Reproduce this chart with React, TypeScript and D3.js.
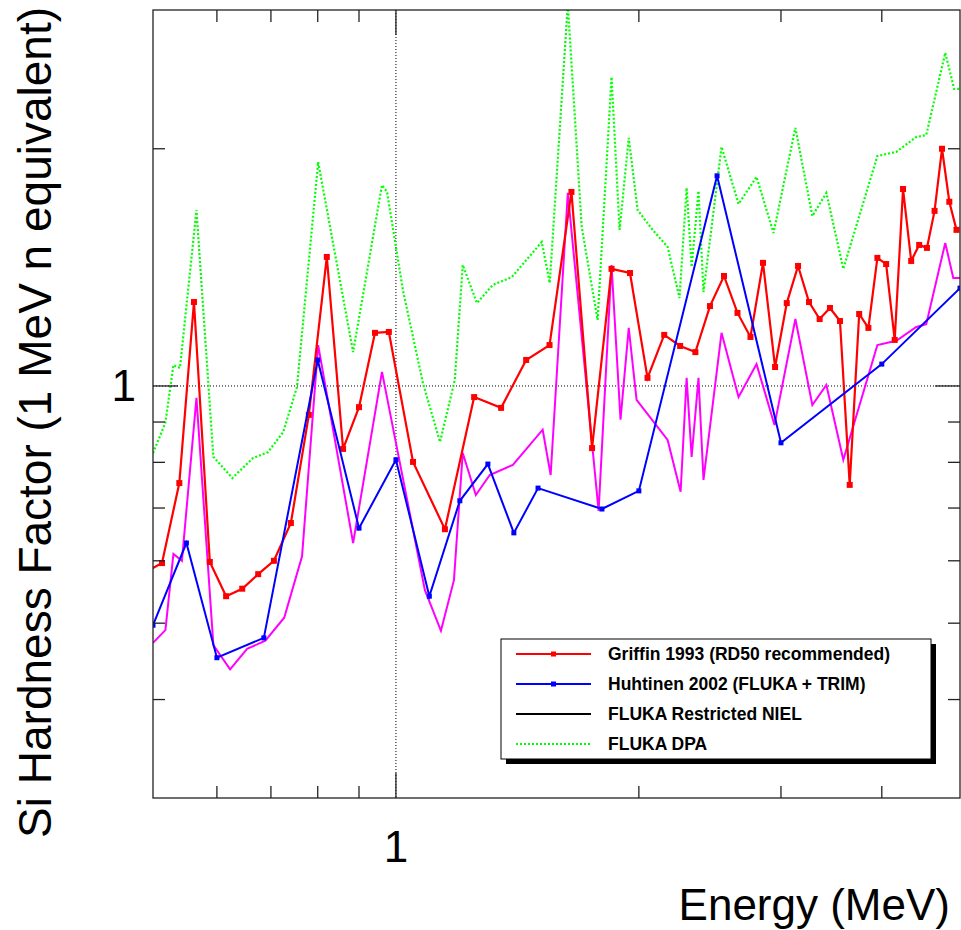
import React from 'react';
import * as d3 from 'd3';

// Griffin 1993 (RD50 recommended) hardness factors
const griffinEnergy = [0.49, 0.513, 0.539, 0.562, 0.588, 0.616, 0.645, 0.675, 0.706, 0.741, 0.78, 0.821, 0.86, 0.9, 0.942, 0.98, 1.05, 1.15, 1.25, 1.35, 1.45, 1.55, 1.65, 1.75, 1.85, 1.95, 2.05, 2.15, 2.25, 2.35, 2.45, 2.55, 2.65, 2.75, 2.85, 2.95, 3.05, 3.15, 3.25, 3.35, 3.45, 3.55, 3.65, 3.75, 3.85, 3.95, 4.05, 4.15, 4.25, 4.35, 4.45, 4.55, 4.65, 4.75, 4.85, 4.95];
const griffinFactor = [0.581, 0.596, 0.753, 1.278, 0.598, 0.541, 0.553, 0.577, 0.6, 0.67, 0.919, 1.458, 0.832, 0.94, 1.168, 1.171, 0.801, 0.658, 0.968, 0.938, 1.079, 1.127, 1.763, 0.834, 1.408, 1.391, 1.024, 1.161, 1.124, 1.104, 1.263, 1.379, 1.238, 1.154, 1.433, 1.057, 1.274, 1.42, 1.278, 1.216, 1.256, 1.209, 0.749, 1.234, 1.185, 1.454, 1.428, 1.144, 1.778, 1.441, 1.51, 1.497, 1.668, 2.0, 1.713, 1.578];

// Huhtinen 2002 (FLUKA + TRIM)
const huhtinenEnergy = [0.5, 0.55, 0.6, 0.686, 0.8, 0.9, 1.0, 1.1, 1.2, 1.3, 1.4, 1.5, 1.8, 2.0, 2.5, 3.0, 4.0, 5.0];
const huhtinenFactor = [0.497, 0.632, 0.452, 0.479, 1.079, 0.66, 0.806, 0.541, 0.715, 0.796, 0.651, 0.742, 0.698, 0.736, 1.848, 0.847, 1.066, 1.331];

// FLUKA restricted NIEL
const nielEnergy = [0.5, 0.518, 0.53, 0.543, 0.566, 0.594, 0.623, 0.654, 0.689, 0.727, 0.765, 0.801, 0.885, 0.961, 1.086, 1.137, 1.18, 1.21, 1.256, 1.307, 1.396, 1.52, 1.555, 1.633, 1.783, 1.85, 1.898, 1.943, 1.987, 2.171, 2.253, 2.292, 2.325, 2.371, 2.405, 2.532, 2.658, 2.798, 2.945, 3.126, 3.281, 3.415, 3.584, 3.95, 4.169, 4.414, 4.541, 4.794, 4.905, 5.0];
const nielFactor = [0.472, 0.49, 0.612, 0.6, 0.966, 0.469, 0.437, 0.464, 0.475, 0.508, 0.608, 1.127, 0.632, 1.042, 0.551, 0.489, 0.567, 0.822, 0.727, 0.771, 0.794, 0.88, 0.771, 1.758, 0.694, 1.424, 0.906, 1.185, 0.96, 0.854, 0.734, 1.024, 0.813, 1.024, 0.76, 1.168, 0.968, 1.066, 0.892, 1.216, 0.946, 1.003, 0.806, 1.127, 1.141, 1.188, 1.198, 1.519, 1.371, 1.371];

// FLUKA DPA
const dpaEnergy = [0.5, 0.518, 0.53, 0.54, 0.566, 0.594, 0.627, 0.665, 0.694, 0.725, 0.754, 0.801, 0.885, 0.961, 0.975, 1.02, 1.08, 1.134, 1.183, 1.21, 1.26, 1.318, 1.392, 1.516, 1.551, 1.633, 1.699, 1.778, 1.85, 1.893, 1.943, 1.993, 2.08, 2.171, 2.246, 2.292, 2.325, 2.371, 2.405, 2.532, 2.658, 2.798, 2.937, 3.126, 3.281, 3.415, 3.584, 3.95, 4.169, 4.414, 4.541, 4.794, 4.918, 5.0];
const dpaFactor = [0.822, 0.898, 1.063, 1.054, 1.672, 0.813, 0.764, 0.81, 0.824, 0.874, 0.997, 1.924, 1.104, 1.799, 1.763, 1.324, 1.009, 0.849, 1.018, 1.424, 1.274, 1.343, 1.375, 1.523, 1.351, 3.05, 1.592, 1.213, 2.466, 1.578, 2.064, 1.672, 1.578, 1.501, 1.293, 1.784, 1.416, 1.768, 1.316, 2.011, 1.702, 1.842, 1.564, 2.126, 1.643, 1.758, 1.408, 1.958, 1.982, 2.07, 2.082, 2.647, 2.382, 2.382];

// Axis ticks
const xMinorTicks = [0.6, 0.7, 0.8, 0.9, 2, 3, 4];
const xMajorTicks = [1];
const yMinorTicks = [0.4, 0.5, 0.6, 0.7, 0.8, 0.9, 2];
const yMajorTicks = [1];

const legendLabels = [
  'Griffin 1993 (RD50 recommended)',
  'Huhtinen 2002 (FLUKA + TRIM)',
  'FLUKA Restricted NIEL',
  'FLUKA DPA',
];

const W = 961;
const H = 930;
const frame = { left: 153, right: 960, top: 10, bottom: 798 };
const FONT = "'Liberation Sans', Arial, Helvetica, sans-serif";

export default function App() {
  const x = d3.scaleLog().domain([0.5, 5]).range([frame.left, frame.right]);
  const y = d3.scaleLog().domain([0.3, 3]).range([frame.bottom, frame.top]);

  const line = d3
    .line<[number, number]>()
    .x((d) => x(d[0]))
    .y((d) => y(d[1]));

  const zip = (a: number[], b: number[]) => a.map((v, i) => [v, b[i]] as [number, number]);
  const griffin = zip(griffinEnergy, griffinFactor);
  const huhtinen = zip(huhtinenEnergy, huhtinenFactor);
  const niel = zip(nielEnergy, nielFactor);
  const dpa = zip(dpaEnergy, dpaFactor);

  const minorLen = 12;
  const majorLen = 25;

  const legend = { x: 501, y: 639, w: 430, h: 120 };
  const rowY = [654, 684, 714, 744];

  return (
    <svg
      width={W}
      height={H}
      style={{ position: 'absolute', left: 0, top: 0, background: '#fff' }}
      fontFamily={FONT}
    >
      <defs>
        <clipPath id="frameClip">
          <rect x={frame.left} y={frame.top} width={frame.right - frame.left} height={frame.bottom - frame.top} />
        </clipPath>
      </defs>
      <rect x={0} y={0} width={W} height={H} fill="#fff" />

      {/* grid at the major ticks */}
      {xMajorTicks.map((t) => (
        <line key={'gx' + t} x1={x(t)} x2={x(t)} y1={frame.top} y2={frame.bottom} stroke="#000" strokeWidth={1} strokeDasharray="1 2" />
      ))}
      {yMajorTicks.map((t) => (
        <line key={'gy' + t} y1={y(t)} y2={y(t)} x1={frame.left} x2={frame.right} stroke="#000" strokeWidth={1} strokeDasharray="1 2" />
      ))}

      <g clipPath="url(#frameClip)">
        <path d={line(niel) || ''} fill="none" stroke="#ff00ff" strokeWidth={2} />
        <path d={line(dpa) || ''} fill="none" stroke="#00ff00" strokeWidth={2.2} strokeDasharray="2 2" />
        <path d={line(griffin) || ''} fill="none" stroke="#ff0000" strokeWidth={2.2} />
        {griffin.map((d, i) => (
          <rect key={'gm' + i} x={x(d[0]) - 3} y={y(d[1]) - 3} width={6} height={6} fill="#ff0000" />
        ))}
        <path d={line(huhtinen) || ''} fill="none" stroke="#0000ff" strokeWidth={2} />
        {huhtinen.map((d, i) => (
          <rect key={'hm' + i} x={x(d[0]) - 2.5} y={y(d[1]) - 2.5} width={5} height={5} fill="#0000ff" />
        ))}
      </g>

      {/* frame */}
      <rect
        x={frame.left}
        y={frame.top}
        width={frame.right - frame.left}
        height={frame.bottom - frame.top}
        fill="none"
        stroke="#222"
        strokeWidth={1.3}
      />

      {/* ticks on all four sides */}
      {[...xMinorTicks.map((t) => [t, minorLen]), ...xMajorTicks.map((t) => [t, majorLen])].map(([t, len]) => (
        <g key={'xt' + t} stroke="#222" strokeWidth={1.3}>
          <line x1={x(t)} x2={x(t)} y1={frame.bottom} y2={frame.bottom - len} />
          <line x1={x(t)} x2={x(t)} y1={frame.top} y2={frame.top + len} />
        </g>
      ))}
      {[...yMinorTicks.map((t) => [t, minorLen]), ...yMajorTicks.map((t) => [t, majorLen])].map(([t, len]) => (
        <g key={'yt' + t} stroke="#222" strokeWidth={1.3}>
          <line y1={y(t)} y2={y(t)} x1={frame.left} x2={frame.left + len} />
          <line y1={y(t)} y2={y(t)} x1={frame.right} x2={frame.right - len} />
        </g>
      ))}

      {/* tick labels */}
      {xMajorTicks.map((t) => (
        <text key={'xl' + t} x={x(t)} y={862} fontSize={44} textAnchor="middle" fill="#000">
          {t}
        </text>
      ))}
      {yMajorTicks.map((t) => (
        <text key={'yl' + t} x={136} y={y(t) + 15} fontSize={44} textAnchor="end" fill="#000">
          {t}
        </text>
      ))}

      {/* axis titles */}
      <text x={950} y={920} fontSize={44} textAnchor="end" fill="#000">
        Energy (MeV)
      </text>
      <text
        transform={`translate(51, 7) rotate(-90)`}
        fontSize={46}
        textAnchor="end"
        fill="#000"
      >
        Si Hardness Factor (1 MeV n equivalent)
      </text>

      {/* legend */}
      <rect x={legend.x + 5} y={legend.y + 5} width={legend.w} height={legend.h} fill="#000" />
      <rect x={legend.x} y={legend.y} width={legend.w} height={legend.h} fill="#fff" stroke="#000" strokeWidth={1} />
      {legendLabels.map((label, i) => {
        const yy = rowY[i];
        const colors = ['#ff0000', '#0000ff', '#000000', '#00ff00'];
        return (
          <g key={'lg' + i}>
            <line
              x1={516}
              x2={591}
              y1={yy}
              y2={yy}
              stroke={colors[i]}
              strokeWidth={2}
              strokeDasharray={i === 3 ? '2 2' : undefined}
            />
            {i < 2 && <rect x={553.5 - 2.5} y={yy - 2.5} width={5} height={5} fill={colors[i]} />}
            <text x={608} y={yy + 6} fontSize={17.5} fontWeight="bold" fill="#000">
              {label}
            </text>
          </g>
        );
      })}
    </svg>
  );
}
